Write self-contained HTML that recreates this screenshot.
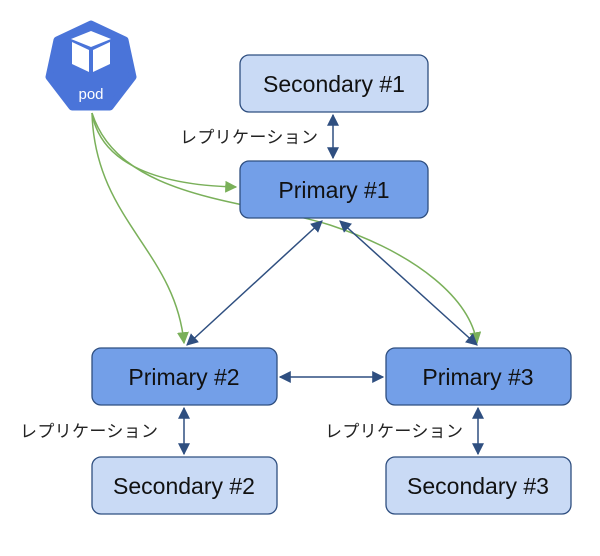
<!DOCTYPE html>
<html><head><meta charset="utf-8"><style>
body{margin:0;background:#fff;}
svg text{font-family:"Liberation Sans","Noto Sans CJK JP",sans-serif;}
</style></head><body>
<svg width="600" height="551" viewBox="0 0 600 551" xmlns="http://www.w3.org/2000/svg">
<defs>
<marker id="b" viewBox="0 0 10 10" refX="9" refY="5" markerWidth="8" markerHeight="8" orient="auto-start-reverse"><path d="M0,0 L10,5 L0,10 z" fill="#2f4f80"/></marker>
<marker id="g" viewBox="0 0 10 10" refX="9" refY="5" markerWidth="8" markerHeight="8" orient="auto"><path d="M0,0 L10,5 L0,10 z" fill="#7ab05a"/></marker>
</defs>
<!-- pod -->
<polygon points="91,24 125,40 133,77 110,107 72,107 49,77 57,40" fill="#4a74d9" stroke="#4a74d9" stroke-width="7" stroke-linejoin="round"/>
<g fill="#fff">
<polygon points="91,31 111,39 91,47 71,39"/>
<polygon points="72,42 89,50 89,72 72,64"/>
<polygon points="110,42 93,50 93,72 110,64"/>
</g>
<text x="91" y="99" fill="#fff" font-size="15" text-anchor="middle">pod</text>
<!-- green curves -->
<g fill="none" stroke="#7ab05a" stroke-width="1.5">
<path d="M92,113 C100,160 150,185 236,187" marker-end="url(#g)"/>
<path d="M92,113 C95,220 175,250 184,343" marker-end="url(#g)"/>
<path d="M92,113 C120,200 250,200 330,225 C420,255 470,300 477,343" marker-end="url(#g)"/>
</g>
<!-- blue connectors -->
<g stroke="#2f4f80" stroke-width="1.5" fill="none">
<line x1="333" y1="115" x2="333" y2="158" marker-start="url(#b)" marker-end="url(#b)"/>
<line x1="322" y1="221" x2="187" y2="345" marker-start="url(#b)" marker-end="url(#b)"/>
<line x1="340" y1="221" x2="477" y2="345" marker-start="url(#b)" marker-end="url(#b)"/>
<line x1="280" y1="377" x2="383" y2="377" marker-start="url(#b)" marker-end="url(#b)"/>
<line x1="184" y1="408" x2="184" y2="454" marker-start="url(#b)" marker-end="url(#b)"/>
<line x1="478" y1="408" x2="478" y2="454" marker-start="url(#b)" marker-end="url(#b)"/>
</g>
<!-- boxes -->
<g stroke="#2f4f80" stroke-width="1.3">
<rect x="240" y="55" width="188" height="57" rx="9" fill="#c9daf5"/>
<rect x="240" y="161" width="188" height="57" rx="9" fill="#739fe8"/>
<rect x="92" y="348" width="185" height="57" rx="9" fill="#739fe8"/>
<rect x="386" y="348" width="185" height="57" rx="9" fill="#739fe8"/>
<rect x="92" y="457" width="185" height="57" rx="9" fill="#c9daf5"/>
<rect x="386" y="457" width="185" height="57" rx="9" fill="#c9daf5"/>
</g>
<g font-size="23" fill="#111" text-anchor="middle">
<text x="334" y="92">Secondary #1</text>
<text x="334" y="198">Primary #1</text>
<text x="184" y="385">Primary #2</text>
<text x="478" y="385">Primary #3</text>
<text x="184" y="494">Secondary #2</text>
<text x="478" y="494">Secondary #3</text>
</g>
<g font-size="17" fill="#222">
<text x="180" y="143" textLength="138">レプリケーション</text>
<text x="20" y="437" textLength="138">レプリケーション</text>
<text x="325" y="437" textLength="138">レプリケーション</text>
</g>
</svg>
</body></html>
